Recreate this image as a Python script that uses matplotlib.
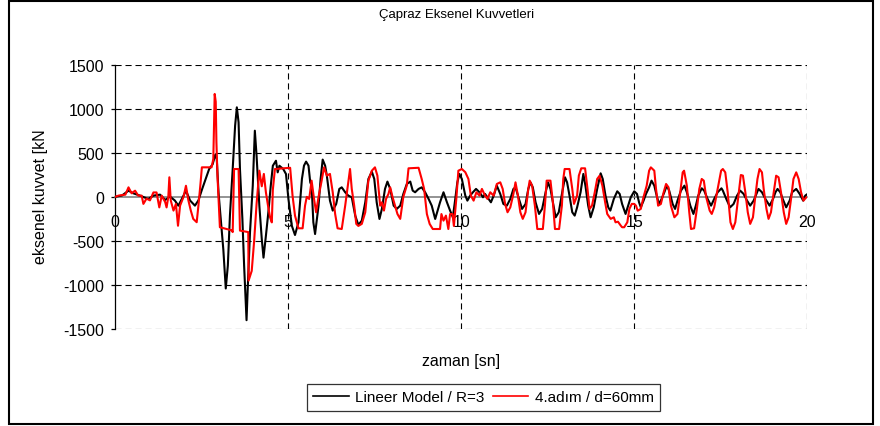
import matplotlib
matplotlib.use("Agg")
import matplotlib.pyplot as plt
from matplotlib.patches import Rectangle

plt.rcParams['font.family'] = ['Liberation Sans', 'DejaVu Sans']
plt.rcParams['axes.unicode_minus'] = False

title = "Çapraz Eksenel Kuvvetleri"
xlabel = "zaman [sn]"
ylabel = "eksenel kuvvet [kN"
label_lin = "Lineer Model / R=3"
label_step = "4.adım / d=60mm"
xticks = [0, 5, 10, 15, 20]
yticks = [-1500, -1000, -500, 0, 500, 1000, 1500]

t_lin = [0.00, 0.20, 0.39, 0.53, 0.72, 0.96, 1.11, 1.30, 1.45, 1.59, 1.73, 1.83, 1.93, 2.05, 2.17, 2.31,
         2.41, 2.51, 2.60, 2.72, 2.82, 2.90, 2.94, 2.99, 3.08, 3.13, 3.20, 3.26, 3.32, 3.40, 3.47, 3.52,
         3.57, 3.61, 3.68, 3.73, 3.80, 3.83, 3.90, 3.98, 4.04, 4.09, 4.17, 4.24, 4.29, 4.36, 4.43, 4.50,
         4.56, 4.65, 4.70, 4.75, 4.86, 4.94, 5.01, 5.11, 5.20, 5.30, 5.40, 5.46, 5.52, 5.59, 5.64, 5.68,
         5.73, 5.78, 5.88, 5.94, 6.00, 6.07, 6.12, 6.21, 6.29, 6.39, 6.48, 6.55, 6.65, 6.74, 6.84, 6.94,
         7.03, 7.13, 7.23, 7.32, 7.42, 7.49, 7.56, 7.64, 7.71, 7.80, 7.87, 7.95, 8.05, 8.14, 8.24, 8.33,
         8.43, 8.53, 8.60, 8.67, 8.77, 8.86, 8.96, 9.06, 9.15, 9.25, 9.32, 9.39, 9.49, 9.59, 9.68, 9.76,
         9.83, 9.89, 9.95, 10.02, 10.12, 10.18, 10.26, 10.34, 10.43, 10.53, 10.63, 10.69, 10.76, 10.86,
         10.94, 11.03, 11.13, 11.22, 11.32, 11.42, 11.51, 11.57, 11.67, 11.76, 11.86, 11.94, 12.00, 12.07,
         12.15, 12.25, 12.34, 12.44, 12.51, 12.58, 12.65, 12.73, 12.82, 12.92, 13.00, 13.06, 13.13, 13.21,
         13.28, 13.35, 13.45, 13.53, 13.59, 13.67, 13.74, 13.83, 13.93, 14.03, 14.09, 14.17, 14.25, 14.31,
         14.41, 14.51, 14.58, 14.65, 14.75, 14.81, 14.90, 15.00, 15.08, 15.14, 15.19, 15.27, 15.34, 15.43,
         15.50, 15.58, 15.66, 15.72, 15.79, 15.87, 15.94, 16.01, 16.11, 16.18, 16.25, 16.35, 16.45, 16.52,
         16.62, 16.71, 16.78, 16.85, 16.95, 17.02, 17.12, 17.22, 17.31, 17.41, 17.52, 17.56, 17.66, 17.77,
         17.87, 17.97, 18.06, 18.16, 18.26, 18.35, 18.45, 18.53, 18.59, 18.69, 18.79, 18.91, 19.01, 19.08,
         19.14, 19.22, 19.29, 19.39, 19.49, 19.56, 19.68, 19.78, 19.88, 19.94, 20.01]
v_lin = [0, 15, 70, 40, 14, -24, 14, 25, -35, 3, -42, -100, -24, 70, -42, -100,
         -40, 80, 180, 316, 370, 480, 430, 52, -364, -600, -1040, -780, -213, 316, 808, 1016,
         846, 316, -250, -780, -1400, -1083, -402, 126, 751, 467, -100, -478, -690, -440, -175, 126,
         353, 410, 278, 353, 316, 259, -24, -330, -433, -289, 203, 354, 400, 354, 165, 127,
         -289, -422, -100, 203, 423, 354, 241, -43, -156, -81, 90, 108, 52, 14, -5, -213,
         -319, -270, -62, 203, 286, 203, -62, -251, -137, 90, 173, 90, -100, -137, -100, 33,
         146, 173, 71, 52, 90, 108, 52, -24, -100, -251, -156, -62, 52, -62, -156, -232,
         -24, 165, 260, 203, 14, -43, 14, 52, 90, 52, -5, 33, -5, -62,
         14, 127, 33, -81, -100, -24, 90, 108, -24, -137, -81, 90, 165, 108,
         -62, -194, -137, 52, 165, 90, -62, -232, -175, 52, 222, 165, 14, -175,
         -213, -119, 52, 260, 127, -100, -232, -119, 90, 267, 203, 14, -119, -156,
         -24, 63, 33, -81, -194, -119, -5, 63, 33, -62, -119, -43, 33, 108,
         184, 127, -5, -81, -24, 52, 127, 71, -81, -137, -43, 71, 127, 52,
         -100, -194, -100, 14, 97, 71, -24, -100, -24, 52, 97, 71, -24, -119,
         -81, 14, 71, 33, -43, -100, -43, 33, 90, 52, -24, -100, -24, 52,
         90, 52, -24, -119, -43, 52, 90, 33, -43, 14, 33]

t_step = [0.00, 0.10, 0.30, 0.39, 0.48, 0.58, 0.67, 0.77, 0.82, 0.91, 1.01, 1.11, 1.20, 1.28, 1.35, 1.45,
          1.49, 1.54, 1.57, 1.61, 1.69, 1.76, 1.82, 1.88, 1.98, 2.05, 2.12, 2.19, 2.26, 2.36, 2.41, 2.47,
          2.51, 2.79, 2.84, 2.88, 2.91, 2.93, 2.96, 3.03, 3.37, 3.40, 3.44, 3.57, 3.61, 3.85, 3.86, 3.95,
          4.02, 4.09, 4.17, 4.24, 4.30, 4.36, 4.42, 4.48, 4.53, 4.56, 4.62, 5.06, 5.13, 5.20, 5.30, 5.42,
          5.49, 5.54, 5.61, 5.68, 5.75, 5.81, 5.88, 5.97, 6.04, 6.12, 6.21, 6.29, 6.36, 6.43, 6.55, 6.65,
          6.74, 6.79, 6.84, 6.91, 6.97, 7.03, 7.13, 7.23, 7.32, 7.42, 7.51, 7.58, 7.66, 7.71, 7.77, 7.83,
          7.90, 7.95, 8.02, 8.09, 8.16, 8.24, 8.33, 8.43, 8.48, 8.77, 8.86, 8.93, 9.01, 9.09, 9.18, 9.39,
          9.43, 9.49, 9.56, 9.63, 9.68, 9.75, 9.79, 9.86, 9.92, 10.02, 10.12, 10.21, 10.28, 10.36, 10.44,
          10.53, 10.60, 10.69, 10.76, 10.84, 10.94, 11.03, 11.13, 11.20, 11.27, 11.34, 11.42, 11.51, 11.57,
          11.64, 11.71, 11.78, 11.86, 11.94, 11.98, 12.05, 12.13, 12.20, 12.36, 12.42, 12.47, 12.58, 12.65,
          12.71, 12.83, 12.91, 12.95, 12.99, 13.13, 13.21, 13.26, 13.35, 13.40, 13.47, 13.58, 13.65, 13.71,
          13.78, 13.86, 13.93, 14.00, 14.08, 14.16, 14.22, 14.32, 14.41, 14.46, 14.53, 14.61, 14.65, 14.71,
          14.80, 14.86, 14.93, 15.00, 15.05, 15.10, 15.19, 15.27, 15.36, 15.43, 15.48, 15.58, 15.63, 15.69,
          15.77, 15.85, 15.92, 15.99, 16.06, 16.16, 16.25, 16.33, 16.40, 16.44, 16.52, 16.59, 16.64, 16.73,
          16.81, 16.88, 16.95, 17.01, 17.08, 17.18, 17.24, 17.31, 17.41, 17.51, 17.56, 17.63, 17.70, 17.78,
          17.85, 17.92, 18.01, 18.08, 18.14, 18.21, 18.28, 18.35, 18.43, 18.49, 18.56, 18.62, 18.69, 18.74,
          18.82, 18.88, 18.95, 19.03, 19.10, 19.17, 19.24, 19.32, 19.39, 19.46, 19.53, 19.60, 19.68, 19.75,
          19.82, 19.89, 19.97, 20.04]
v_step = [0, 14, 25, 108, 40, 70, 14, 14, -80, -20, -40, 50, 50, -120, 14, -60,
          -120, 0, 222, -40, -156, -80, -328, -100, 0, 126, -40, -156, -250, -288, -100, 150,
          335, 335, 430, 1168, 1080, 620, 240, -345, -380, -400, 316, 316, -383, -400, -950, -840,
          -500, -80, 297, 120, 260, 50, -100, -233, -290, 80, 316, 330, 10, -213, -357, -357,
          -100, 0, -24, 184, -24, -175, 0, 184, 335, 241, 260, 52, -195, -357, -365, -100,
          165, 316, 90, -100, -307, -330, -307, -175, 184, 297, 335, 241, -100, -62, -156, -24,
          33, 108, -5, -100, -195, -250, 0, 130, 324, 330, 203, 90, -195, -307, -365, -365,
          -195, -270, -213, -365, -195, -195, -330, -24, 297, 316, 280, 203, 14, -43, 52,
          14, 90, 14, -24, 52, 14, 146, 165, 90, -81, -175, -119, 33, 165,
          14, -175, -250, -175, 90, 184, 127, -100, -365, -365, -100, 184, 184, -62,
          -365, -365, -100, 203, 316, 316, 90, -80, 14, 241, 324, 324, 90, -138,
          -100, 52, 203, 240, 127, -62, -194, -250, -232, -289, -282, -326, -345, -345,
          -289, -137, -80, -80, -100, -157, -137, 0, 127, 297, 335, 297, 90, -100,
          -81, 52, 146, 108, -100, -232, -194, 52, 278, 297, 127, -175, -365, -357,
          -137, 90, 203, 184, -5, -156, -194, -119, 90, 297, 316, 278, 52, -289,
          -365, -289, 14, 248, 241, 52, -175, -307, -232, -24, 203, 316, 278, 90,
          -137, -250, -175, 52, 240, 222, 52, -175, -307, -232, -24, 203, 278, 203,
          52, -43, -5, -5]

W, H = 880, 427
fig = plt.figure(figsize=(W / 100, H / 100), dpi=100)
ax = fig.add_axes([115 / W, 1 - 330 / H, (807.3 - 115) / W, (330 - 65.7) / H])

dash = (0, (5.5, 3.5))
for y in yticks:
    if y != 0:
        ax.axhline(y, color='black', lw=0.8, ls=dash, zorder=1)
for x in xticks[1:]:
    ax.axvline(x, color='black', lw=0.8, ls=dash, zorder=1)

ax.plot(t_lin, v_lin, color='black', lw=1.5, label=label_lin, zorder=3)
ax.plot(t_step, v_step, color='#ff0000', lw=1.5, label=label_step, zorder=4)

ax.set_xlim(0, 20)
ax.set_ylim(-1500, 1500)
ax.set_xticks(xticks)
ax.set_yticks(yticks)
ax.set_xticklabels([str(v) for v in xticks])
ax.set_yticklabels([str(v) for v in yticks])

for s in ['top', 'right']:
    ax.spines[s].set_visible(False)
ax.spines['bottom'].set_position(('data', 0))
ax.spines['bottom'].set_color('#808080')
ax.spines['bottom'].set_linewidth(1.2)
ax.spines['bottom'].set_zorder(2)
ax.spines['left'].set_color('black')
ax.spines['left'].set_linewidth(0.9)
ax.tick_params(axis='x', length=0, pad=12, labelsize=11.5, colors='black')
ax.tick_params(axis='y', length=3, width=0.9, direction='out', pad=5, labelsize=11.5, colors='black')
ax.patch.set_alpha(0)

fig.text(457 / W, 1 - 15 / H, title, ha='center', va='center', fontsize=9.5)
fig.text(461 / W, 1 - 361.7 / H, xlabel, ha='center', va='center', fontsize=11.5)
fig.text(41 / W, 1 - 197 / H, ylabel, ha='center', va='center', fontsize=11.5, rotation=90)

leg = fig.legend(loc='center', bbox_to_anchor=(483.5 / W, 1 - 398.5 / H), ncol=2, fontsize=11,
                 frameon=True, fancybox=False, handlelength=2.3, handletextpad=0.4,
                 columnspacing=0.6, borderpad=0.45)
leg.get_frame().set_edgecolor('black')
leg.get_frame().set_linewidth(0.9)
for line in leg.get_lines():
    line.set_linewidth(1.2)

fig.add_artist(Rectangle((9 / W, 2 / H), (873 - 9) / W, (425 - 2) / H, transform=fig.transFigure,
                         fill=False, edgecolor='black', lw=1.5))

fig.savefig('out.png', dpi=100)
